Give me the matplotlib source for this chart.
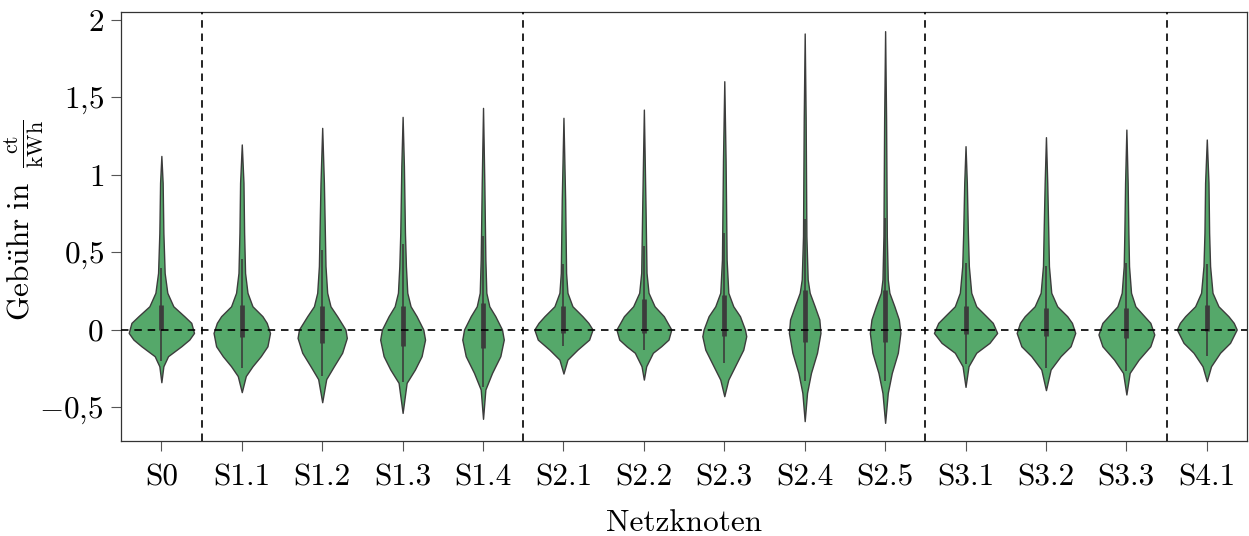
import matplotlib
matplotlib.use("Agg")
import matplotlib.pyplot as plt


# categories (network nodes)
nodes = ["S0", "S1.1", "S1.2", "S1.3", "S1.4", "S2.1", "S2.2", "S2.3",
         "S2.4", "S2.5", "S3.1", "S3.2", "S3.3", "S4.1"]

# violin outlines: fee values (ct/kWh) and half widths
violin_values = [
    [-0.34, -0.237, -0.172, -0.108, -0.065, -0.022, 0.043, 0.086, 0.15, 0.237, 0.365, 0.624, 0.946, 1.12],
    [-0.404, -0.30, -0.237, -0.172, -0.108, -0.022, 0.043, 0.086, 0.15, 0.237, 0.365, 0.624, 0.946, 1.194],
    [-0.469, -0.32, -0.237, -0.15, -0.054, 0.0, 0.086, 0.15, 0.237, 0.409, 0.624, 0.946, 1.301],
    [-0.538, -0.344, -0.258, -0.172, -0.065, 0.0, 0.086, 0.15, 0.237, 0.409, 0.624, 1.054, 1.372],
    [-0.576, -0.387, -0.28, -0.172, -0.065, 0.0, 0.086, 0.15, 0.237, 0.452, 0.946, 1.43],
    [-0.284, -0.194, -0.13, -0.065, 0.0, 0.043, 0.086, 0.15, 0.237, 0.365, 0.839, 1.366],
    [-0.323, -0.237, -0.15, -0.108, -0.065, 0.0, 0.086, 0.15, 0.237, 0.366, 0.774, 1.419],
    [-0.43, -0.323, -0.237, -0.13, -0.043, 0.0, 0.086, 0.15, 0.237, 0.452, 1.097, 1.602],
    [-0.591, -0.409, -0.28, -0.15, -0.022, 0.065, 0.15, 0.237, 0.323, 0.602, 1.355, 1.91],
    [-0.602, -0.409, -0.28, -0.15, -0.022, 0.065, 0.15, 0.237, 0.323, 0.602, 1.355, 1.925],
    [-0.37, -0.237, -0.15, -0.086, -0.022, 0.043, 0.086, 0.15, 0.237, 0.409, 0.624, 0.946, 1.183],
    [-0.391, -0.258, -0.172, -0.108, -0.022, 0.043, 0.086, 0.15, 0.237, 0.409, 0.624, 0.946, 1.241],
    [-0.419, -0.28, -0.194, -0.108, -0.032, 0.043, 0.086, 0.15, 0.237, 0.409, 0.624, 0.946, 1.29],
    [-0.333, -0.237, -0.15, -0.086, 0.0, 0.043, 0.086, 0.15, 0.237, 0.409, 0.624, 0.946, 1.226],
]
violin_halfwidths = [
    [0, 0.025, 0.083, 0.248, 0.347, 0.406, 0.372, 0.285, 0.149, 0.074, 0.041, 0.025, 0.016, 0],
    [0, 0.05, 0.133, 0.236, 0.319, 0.351, 0.31, 0.257, 0.133, 0.071, 0.041, 0.029, 0.021, 0],
    [0, 0.05, 0.145, 0.248, 0.306, 0.289, 0.186, 0.103, 0.062, 0.041, 0.033, 0.021, 0],
    [0, 0.05, 0.153, 0.236, 0.279, 0.257, 0.174, 0.099, 0.058, 0.041, 0.029, 0.016, 0],
    [0, 0.029, 0.112, 0.215, 0.258, 0.236, 0.153, 0.078, 0.041, 0.029, 0.016, 0],
    [0, 0.05, 0.174, 0.319, 0.362, 0.31, 0.236, 0.112, 0.05, 0.033, 0.021, 0],
    [0, 0.029, 0.112, 0.215, 0.306, 0.341, 0.248, 0.133, 0.058, 0.033, 0.021, 0],
    [0, 0.05, 0.133, 0.236, 0.273, 0.257, 0.195, 0.112, 0.05, 0.029, 0.016, 0],
    [0, 0.029, 0.078, 0.153, 0.196, 0.182, 0.124, 0.062, 0.037, 0.021, 0.012, 0],
    [0, 0.033, 0.083, 0.158, 0.19, 0.17, 0.115, 0.053, 0.033, 0.021, 0.012, 0],
    [0, 0.037, 0.133, 0.298, 0.393, 0.339, 0.257, 0.133, 0.071, 0.041, 0.029, 0.016, 0],
    [0, 0.058, 0.182, 0.306, 0.364, 0.323, 0.264, 0.14, 0.066, 0.037, 0.029, 0.016, 0],
    [0, 0.041, 0.153, 0.298, 0.347, 0.298, 0.223, 0.112, 0.058, 0.033, 0.025, 0.016, 0],
    [0, 0.053, 0.165, 0.289, 0.372, 0.335, 0.269, 0.145, 0.071, 0.041, 0.029, 0.021, 0],
]

# inner box statistics
whisker_low = [-0.20, -0.25, -0.30, -0.34, -0.37, -0.108, -0.13, -0.215, -0.333, -0.333, -0.22, -0.25, -0.27, -0.172]
quartile_1 = [0.0, -0.047, -0.086, -0.108, -0.118, -0.022, -0.022, -0.043, -0.082, -0.082, -0.032, -0.043, -0.054, -0.011]
quartile_3 = [0.161, 0.161, 0.15, 0.155, 0.168, 0.155, 0.198, 0.226, 0.254, 0.258, 0.155, 0.14, 0.14, 0.161]
whisker_high = [0.40, 0.456, 0.512, 0.555, 0.602, 0.426, 0.538, 0.624, 0.714, 0.72, 0.43, 0.413, 0.43, 0.426]

# group separators between node levels
separators = [0.5, 4.5, 9.5, 12.5]

y_ticks = [-0.5, 0, 0.5, 1, 1.5, 2]
y_ticklabels = [r"$-0{,}5$", r"$0$", r"$0{,}5$", r"$1$", r"$1{,}5$", r"$2$"]

plt.rcParams["font.family"] = ["cmr10", "DejaVu Serif"]
plt.rcParams["mathtext.fontset"] = "cm"
plt.rcParams["axes.unicode_minus"] = False

fill = "#55a86a"
edge = "#3c3c3c"
dash = (0, (4.5, 3.5))

fig, ax = plt.subplots(figsize=(12.49, 5.36), dpi=100)
fig.subplots_adjust(left=0.097, right=0.9984, top=0.978, bottom=0.177)

for i in range(len(nodes)):
    vals = violin_values[i]
    hw = violin_halfwidths[i]
    ax.fill_betweenx(vals, [i - w for w in hw], [i + w for w in hw],
                     facecolor=fill, edgecolor=edge, linewidth=1.0, zorder=2)
    ax.vlines(i, whisker_low[i], whisker_high[i], color=edge, linewidth=1.2, zorder=3)
    ax.vlines(i, quartile_1[i], quartile_3[i], color=edge, linewidth=3.4, zorder=3)

ax.axhline(0, color="black", linestyle=dash, linewidth=1.2, zorder=4)
for s in separators:
    ax.axvline(s, color="black", linestyle=dash, linewidth=1.2, zorder=4)

ax.set_xlim(-0.5, len(nodes) - 0.5)
ax.set_ylim(-0.72, 2.05)
ax.set_xticks(range(len(nodes)))
ax.set_xticklabels(nodes)
ax.set_yticks(y_ticks)
ax.set_yticklabels(y_ticklabels)
ax.tick_params(labelsize=22.5, length=7.5, width=0.8, color="#555555")
ax.tick_params(axis="x", pad=9)
ax.tick_params(axis="y", pad=5)
for sp in ax.spines.values():
    sp.set_color("#333333")
    sp.set_linewidth(0.9)

ax.set_xlabel("Netzknoten", fontsize=22.5, labelpad=12)
ax.set_ylabel(r"$\mathrm{Geb\ddot{u}hr\ in}\;\;\frac{\mathrm{ct}}{\mathrm{kWh}}$", fontsize=22.5)
ax.yaxis.set_label_coords(-0.068, 0.515)

fig.savefig("out.png", dpi=100)
